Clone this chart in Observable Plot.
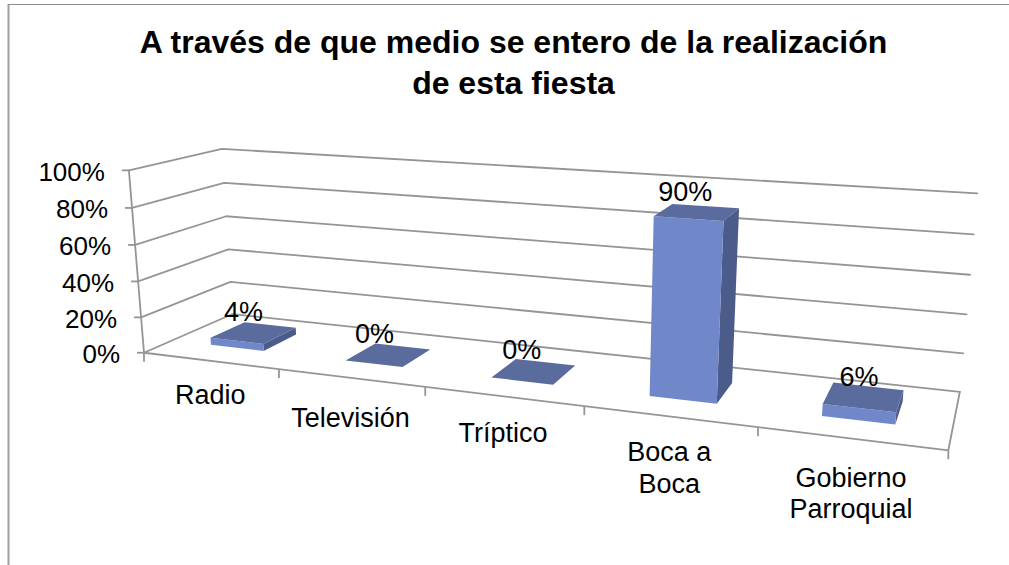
<!DOCTYPE html>
<html><head><meta charset="utf-8">
<style>html,body{margin:0;padding:0;background:#fff}svg{display:block}</style>
<script src="https://cdn.jsdelivr.net/npm/d3@7"></script>
<script src="https://cdn.jsdelivr.net/npm/@observablehq/plot@0.6"></script>
</head><body><div id="chart"></div>
<script>
const titleText = "A través de que medio se entero de la realización\nde esta fiesta";
const categories = ["Radio","Televisión","Tríptico","Boca a\nBoca","Gobierno\nParroquial"];
const values = [4,0,0,90,6];
const yTicks = [0,20,40,60,80,100];

// camera: 3D box (u along categories, v depth, w height) -> page pixels
const calib = [
 [0,0,0,144,351],[1,0,0,947,449],[1,1,0,959,391],[0,1,0,232,314],
 [0,0,1,128,171],[0,1,1,221,148],[1,1,1,976,192.7],
 [.2,0,0,278,368],[.4,0,0,424,387],[.6,0,0,583,406],[.8,0,0,756,427],
 [1,1,.6,969.5,274],[0,1,.6,226,216],[0,0,.6,135,244],
 [.66,.3,.9,654,216],[.74,.3,.9,724,220],[.66,.3,0,650,396],[.74,.3,0,717,403],
 [.74,.7,.9,738,208],[.66,.7,.9,672,203],
 [.86,.3,.06,823,404],[.94,.3,.06,897,412],[.94,.7,.06,903,390],[.86,.7,.06,833,382]
];
function solve(A,b){
  const n=b.length,M=A.map((r,i)=>[...r,b[i]]);
  for(let c=0;c<n;c++){
    let p=c;for(let r=c+1;r<n;r++)if(Math.abs(M[r][c])>Math.abs(M[p][c]))p=r;
    [M[c],M[p]]=[M[p],M[c]];
    for(let r=0;r<n;r++){if(r===c)continue;const f=M[r][c]/M[c][c];for(let k=c;k<=n;k++)M[r][k]-=f*M[c][k];}
  }
  return M.map((r,i)=>r[n]/r[i]);
}
const cam=(()=>{
  const rows=[],rhs=[];
  for(const [u,v,w,x,y] of calib){
    rows.push([u,v,w,1,0,0,0,0,-x*u,-x*v,-x*w]);rhs.push(x);
    rows.push([0,0,0,0,u,v,w,1,-y*u,-y*v,-y*w]);rhs.push(y);
  }
  const N=11,A=d3.range(N).map(i=>d3.range(N).map(j=>d3.sum(rows,r=>r[i]*r[j])));
  const b=d3.range(N).map(i=>d3.sum(rows,(r,k)=>r[i]*rhs[k]));
  return solve(A,b);
})();
function proj(u,v,w){
  const d=cam[8]*u+cam[9]*v+cam[10]*w+1;
  return {x:(cam[0]*u+cam[1]*v+cam[2]*w+cam[3])/d,y:(cam[4]*u+cam[5]*v+cam[6]*w+cam[7])/d};
}
const yMax=100, n=categories.length, barHalf=0.2, v0=0.3, v1=0.7;
const wOf=t=>t/yMax;

// grid walls: front-left -> back-left -> back-right
const grid=yTicks.flatMap(t=>[[0,0],[0,1],[1,1]].map(([u,v])=>({t,...proj(u,v,wOf(t))})));
const frame=[
  {id:"leftAxis",...proj(0,0,1)},{id:"leftAxis",...proj(0,0,0)},
  {id:"front",...proj(0,0,0)},{id:"front",...proj(1,0,0)},{id:"front",...proj(1,1,0)}
];
const yTickMarks=yTicks.map(t=>({t,...proj(0,0,wOf(t))}));
const xTickMarks=d3.range(n+1).map(i=>({...proj(i/n,0,0)}));

// bar faces
const face=(i,val,name)=>{
  const a=(i+.5-barHalf)/n,b=(i+.5+barHalf)/n,w=wOf(val);
  const c={front:[[a,v0,0],[b,v0,0],[b,v0,w],[a,v0,w]],
           side:[[b,v0,0],[b,v1,0],[b,v1,w],[b,v0,w]],
           top:[[a,v0,w],[b,v0,w],[b,v1,w],[a,v1,w]]}[name];
  return c.map(p=>({id:name+i,...proj(...p)}));
};
const faces=name=>values.flatMap((val,i)=>val>0||name==="top"?face(i,val,name):[]);
const tops=values.map((val,i)=>{
  const p=[[0,0],[1,0],[1,1],[0,1]].map(([s,t])=>proj((i+.5-barHalf+2*barHalf*s)/n,v0+(v1-v0)*t,wOf(val)));
  return {label:val+"%",x:d3.mean(p,d=>d.x),y:d3.mean(p,d=>d.y)};
});
const catLabels=categories.map((c,i)=>({label:c,...proj((i+.5)/n,0,0)}));
const labelDrop=[21,27,24,23,26];
const valueNudgeX=[-10,-14,-12,-12,-5], valueNudgeY=[-21,-21,-21,-20,-20];

const gridColor="#959595", font="Liberation Sans, Arial, sans-serif";
const chart=Plot.plot({
  width:1009,height:565,margin:0,
  x:{type:"identity",axis:null},y:{type:"identity",axis:null},
  style:{background:"#fff",fontFamily:font},
  marks:[
    Plot.ruleX([8],{y1:4,y2:565,stroke:"#a0a0a0",strokeWidth:2}),
    Plot.ruleY([4],{x1:8,x2:1009,stroke:"#8c8c8c",strokeWidth:1.2}),
    Plot.line(grid,{x:"x",y:"y",z:"t",stroke:gridColor,strokeWidth:1.8}),
    Plot.line(frame,{x:"x",y:"y",z:"id",stroke:gridColor,strokeWidth:1.8}),
    Plot.link(yTickMarks,{x1:d=>d.x-7,y1:"y",x2:"x",y2:"y",stroke:gridColor,strokeWidth:1.8}),
    Plot.link(xTickMarks,{x1:"x",y1:"y",x2:"x",y2:d=>d.y+9,stroke:gridColor,strokeWidth:1.8}),
    Plot.line(faces("side"),{x:"x",y:"y",z:"id",fill:"#4B5B8A",stroke:"none"}),
    Plot.line(faces("front"),{x:"x",y:"y",z:"id",fill:"#7088C9",stroke:"none"}),
    Plot.line(faces("top"),{x:"x",y:"y",z:"id",fill:"#5A6B9D",stroke:"none"}),
    Plot.text(yTickMarks,{x:d=>d.x-24,y:d=>d.y+2,text:d=>d.t+"%",textAnchor:"end",fontSize:26,fill:"#000"}),
    Plot.text(tops,{x:(d,i)=>d.x+valueNudgeX[i],y:(d,i)=>d.y+valueNudgeY[i],text:"label",fontSize:27,fill:"#000"}),
    Plot.text(catLabels,{x:"x",y:(d,i)=>d.y+labelDrop[i],text:"label",fontSize:27,lineAnchor:"top",lineHeight:1.15,fill:"#000"}),
    Plot.text([titleText],{x:()=>513,y:()=>24,text:d=>d,fontSize:32,fontWeight:"bold",lineAnchor:"top",lineHeight:1.27,fill:"#000"})
  ]
});
document.getElementById("chart").append(chart);
</script>
</body></html>
